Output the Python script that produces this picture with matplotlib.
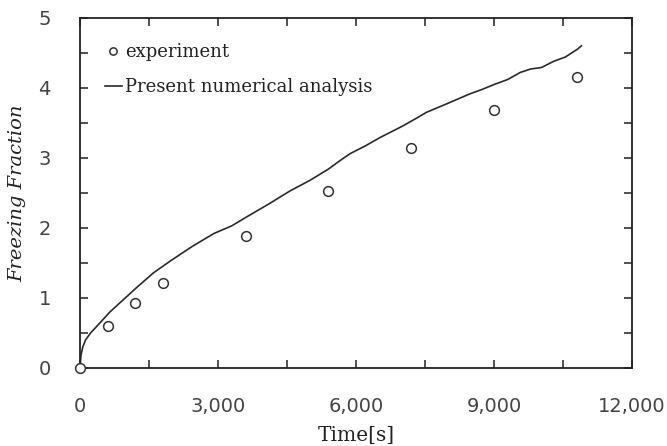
import matplotlib
matplotlib.use('Agg')
import matplotlib.pyplot as plt
import matplotlib.ticker as mtick

# experiment points
exp_time = [0, 600, 1200, 1800, 3600, 5400, 7200, 9000, 10800]
exp_frac = [0.0, 0.60, 0.93, 1.22, 1.88, 2.53, 3.14, 3.68, 4.16]

# numerical analysis curve
num_time = [0, 20, 60, 120, 230, 400, 650, 900, 1250, 1600, 1990, 2450, 2910,
            3300, 3630, 4100, 4570, 5000, 5400, 5650, 5870, 6200, 6520, 6700,
            7000, 7350, 7530, 8000, 8460, 8750, 9010, 9300, 9570, 9800, 10030,
            10300, 10550, 10810, 10900]
num_frac = [0.0, 0.18, 0.30, 0.40, 0.50, 0.62, 0.80, 0.95, 1.16, 1.36, 1.54,
            1.74, 1.92, 2.03, 2.16, 2.34, 2.53, 2.68, 2.84, 2.96, 3.06, 3.17,
            3.29, 3.35, 3.45, 3.58, 3.65, 3.78, 3.91, 3.98, 4.05, 4.12, 4.22,
            4.27, 4.29, 4.38, 4.44, 4.55, 4.60]

fig = plt.figure(figsize=(6.67, 4.46), dpi=100)
ax = fig.add_axes([0.12, 0.175, 0.8275, 0.785])

ax.plot(num_time, num_frac, color='#2a2a2a', lw=1.2, label='Present numerical analysis')
ax.plot(exp_time, exp_frac, 'o', mfc='white', mec='#333333', mew=1.1, ms=7,
        label='experiment', clip_on=False, zorder=5)

ax.set_xlim(0, 12000)
ax.set_ylim(0, 5)
ax.xaxis.set_major_locator(mtick.MultipleLocator(3000))
ax.xaxis.set_minor_locator(mtick.MultipleLocator(1500))
ax.yaxis.set_major_locator(mtick.MultipleLocator(1))
ax.yaxis.set_minor_locator(mtick.MultipleLocator(0.5))
ax.xaxis.set_major_formatter(mtick.StrMethodFormatter('{x:,.0f}'))
ax.tick_params(which='both', direction='in', top=True, right=True,
               length=6, width=1.1, colors='#222222')
ax.tick_params(which='major', labelsize=14, labelcolor='#444444')
ax.tick_params(axis='x', which='major', pad=21)
ax.tick_params(axis='y', which='major', pad=21)
for s in ax.spines.values():
    s.set_linewidth(1.3)
    s.set_color('#222222')

ax.set_xlabel('Time[s]', family='DejaVu Serif', fontsize=14.5, labelpad=7,
              color='#222222')
ax.set_ylabel('Freezing Fraction', family='DejaVu Serif', style='italic',
              fontsize=14, color='#222222')
ax.yaxis.set_label_coords(-0.098, 0.5)

h, l = ax.get_legend_handles_labels()
leg = ax.legend(h[::-1], l[::-1], loc='upper left', frameon=False,
                prop={'family': 'DejaVu Serif', 'size': 13},
                handlelength=0.9, handletextpad=0.2, borderaxespad=0.8,
                labelspacing=0.95, markerscale=0.75, borderpad=0.6)
for t in leg.get_texts():
    t.set_color('#222222')

fig.savefig('out.png', dpi=100)
